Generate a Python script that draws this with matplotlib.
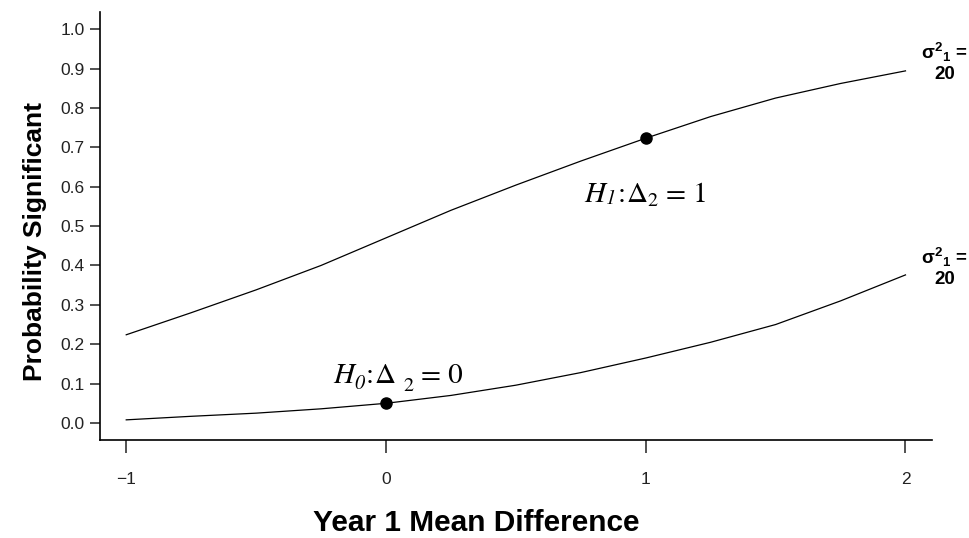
import numpy as np
import matplotlib.pyplot as plt
import matplotlib as mpl

mpl.rcParams['font.family'] = ['Liberation Sans', 'DejaVu Sans']
mpl.rcParams['mathtext.fontset'] = 'custom'
mpl.rcParams['mathtext.rm'] = 'Liberation Sans:bold'
mpl.rcParams['mathtext.it'] = 'Liberation Sans:bold'
mpl.rcParams['mathtext.bf'] = 'Liberation Sans:bold'

# year 1 mean difference
x_vals = [-1.0, -0.75, -0.5, -0.25, 0.0, 0.25, 0.5, 0.75, 1.0, 1.25, 1.5, 1.75, 2.0]
# H1 curve (delta2 = 1)
p_h1 = [0.224, 0.28, 0.338, 0.40, 0.47, 0.54, 0.604, 0.665, 0.723, 0.778, 0.825, 0.862, 0.894]
# H0 curve (delta2 = 0)
p_h0 = [0.008, 0.017, 0.025, 0.036, 0.05, 0.07, 0.096, 0.128, 0.165, 0.205, 0.25, 0.31, 0.376]
pts_x = [0.0, 1.0]
pts_y = [0.05, 0.723]


def rich_text(ax, x, y, pieces):
    # pieces: (text, size, italic, dx, dy) chained left to right on one baseline
    prev = None
    for s, size, ital, dx, dy in pieces:
        kw = dict(fontsize=size, family='STIXGeneral', style='italic' if ital else 'normal',
                  ha='left', va='baseline', textcoords='offset points', xytext=(dx, dy))
        if prev is None:
            prev = ax.annotate(s, xy=(x, y), xycoords='data', **kw)
        else:
            prev = ax.annotate(s, xy=(1, y), xycoords=(prev, 'data'), **kw)


fig = plt.figure(figsize=(9.69, 5.38), dpi=100)
ax = fig.add_axes([0.1032, 0.1822, 0.8586, 0.7958])

ax.plot(x_vals, p_h1, color='black', lw=0.9)
ax.plot(x_vals, p_h0, color='black', lw=0.9)
ax.plot(pts_x, pts_y, 'o', color='black', markersize=8)

ax.set_xlim(-1.101, 2.102)
ax.set_ylim(-0.0431, 1.0439)
ax.set_xticks([-1, 0, 1, 2])
ax.set_xticklabels(['\u22121', '0', '1', '2'])
ax.set_yticks(np.arange(0, 1.01, 0.1))
ax.set_yticklabels(['%.1f' % v for v in np.arange(0, 1.01, 0.1)])
ax.tick_params(axis='x', length=9, width=1.1, labelsize=12.5, pad=14, colors='#222222')
ax.tick_params(axis='y', length=7, width=1.1, labelsize=12.5, pad=4, colors='#222222')
for s in ['top', 'right']:
    ax.spines[s].set_visible(False)
for s in ['left', 'bottom']:
    ax.spines[s].set_linewidth(1.2)

ax.set_xlabel('Year 1 Mean Difference', fontsize=21.5, fontweight='bold', labelpad=16)
ax.xaxis.label.set_x(0.452)
ax.set_ylabel('Probability Significant', fontsize=19, fontweight='bold', labelpad=10)
ax.yaxis.label.set_y(0.463)

S, SUB = 21, 14.5
rich_text(ax, -0.204, 0.1015, [('H', S, True, 0, 0), ('0', SUB, True, 0, -4.5),
                               (':', S, False, 1, 0), ('\u0394', S, False, 1, 0),
                               ('2', SUB, False, 5, -5.5), ('= 0', S, False, 6, 0)])
rich_text(ax, 0.765, 0.561, [('H', S, True, 0, 0), ('1', SUB, True, 0, -1.5),
                             (':', S, False, 1, 0), ('\u0394', S, False, 1, 0),
                             ('2', SUB, False, 0, -3), ('= 1', S, False, 6, 0)])

for yv in [0.89, 0.37]:
    ax.text(2.15, yv + 0.05, r'$\sigma^{2}{}_{1}$ =', fontsize=13.5, fontweight='bold',
            ha='center', va='center', clip_on=False)
    ax.text(2.15, yv - 0.005, '20', fontsize=13.5, fontweight='bold',
            ha='center', va='center', clip_on=False)

fig.savefig('out.png', dpi=100)
